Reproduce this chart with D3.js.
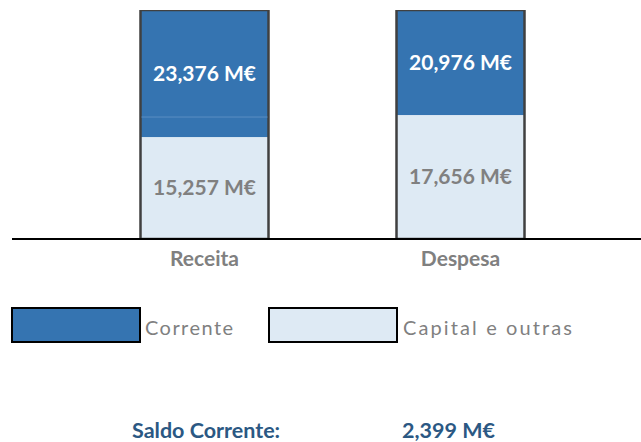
<!DOCTYPE html>
<html>
<head>
<meta charset="utf-8">
<script src="https://cdn.jsdelivr.net/npm/d3@7"></script>
<style>
  body { margin: 0; background: #fff; }
  svg { display: block; }
</style>
</head>
<body>
<svg class="chart"></svg>
<script>
var categories = ['Receita', 'Despesa']
var corrente = [23376, 20976]
var capital = [15257, 17656]
var saldoCorrente = 2399
var seriesNames = ['Corrente', 'Capital e outras']

var width = 641, height = 442;
var darkBlue = '#3574b1', lightBlue = '#deeaf4';

var svg = d3.select('.chart')
    .attr('width', width)
    .attr('height', height)
    .style('font-family', 'Lato, sans-serif');

// the value axis does not start at zero and the bar tops are cut off
var y = d3.scaleLinear()
    .domain([4150, 29100])
    .range([239, 10]);

var x = d3.scaleBand()
    .domain(categories)
    .range([76.5, 588.5])
    .paddingInner(0.5)
    .paddingOuter(0.25);

svg.append('clipPath').attr('id', 'plot')
  .append('rect')
    .attr('x', 0).attr('y', y.range()[1])
    .attr('width', width).attr('height', y.range()[0] - y.range()[1]);

var data = categories.map(function(c, i) {
    return { name: c, capital: capital[i], corrente: corrente[i] };
});

var bars = svg.selectAll('.bar')
    .data(data)
  .enter().append('g')
    .attr('class', 'bar')
    .attr('clip-path', 'url(#plot)');

function clampY(v) { return Math.max(y.range()[1], Math.min(y.range()[0], y(v))); }

// capital e outras (bottom)
bars.append('rect')
    .attr('x', function(d) { return x(d.name); })
    .attr('width', x.bandwidth())
    .attr('y', function(d) { return clampY(d.capital); })
    .attr('height', function(d) { return clampY(y.domain()[0]) - clampY(d.capital); })
    .attr('fill', lightBlue);

// corrente (top)
bars.append('rect')
    .attr('x', function(d) { return x(d.name); })
    .attr('width', x.bandwidth())
    .attr('y', function(d) { return clampY(d.capital + d.corrente); })
    .attr('height', function(d) { return clampY(d.capital) - clampY(d.capital + d.corrente); })
    .attr('fill', darkBlue);

// faint line marking the saldo inside the receita bar
svg.append('line')
    .attr('x1', x('Receita') + 1).attr('x2', x('Receita') + x.bandwidth() - 1)
    .attr('y1', y(capital[0] + saldoCorrente) + 2).attr('y2', y(capital[0] + saldoCorrente) + 2)
    .attr('stroke', '#5a8ec4').attr('stroke-width', 1);

// outline
bars.append('rect')
    .attr('x', function(d) { return x(d.name); })
    .attr('width', x.bandwidth())
    .attr('y', function(d) { return clampY(d.capital + d.corrente); })
    .attr('height', function(d) { return clampY(y.domain()[0]) - clampY(d.capital + d.corrente); })
    .attr('fill', 'none')
    .attr('stroke', '#404040')
    .attr('stroke-width', 2.5);

// value labels
svg.selectAll('.lab-corrente')
    .data(data)
  .enter().append('text')
    .attr('x', function(d) { return x(d.name) + x.bandwidth() / 2; })
    .attr('y', function(d) { return (clampY(d.capital + d.corrente) + clampY(d.capital)) / 2; })
    .attr('dy', '0.35em')
    .attr('text-anchor', 'middle')
    .attr('fill', '#fff')
    .attr('font-weight', 'bold')
    .attr('font-size', 21)
    .text(function(d) { return d3.format(',')(d.corrente) + ' M€'; });

svg.selectAll('.lab-capital')
    .data(data)
  .enter().append('text')
    .attr('x', function(d) { return x(d.name) + x.bandwidth() / 2; })
    .attr('y', function(d) { return (clampY(d.capital) + clampY(y.domain()[0])) / 2; })
    .attr('dy', '0.35em')
    .attr('text-anchor', 'middle')
    .attr('fill', '#808080')
    .attr('font-weight', 'bold')
    .attr('font-size', 21)
    .text(function(d) { return d3.format(',')(d.capital) + ' M€'; });

// baseline
svg.append('line')
    .attr('x1', 12).attr('x2', width)
    .attr('y1', y.range()[0]).attr('y2', y.range()[0])
    .attr('stroke', '#000').attr('stroke-width', 2);

// category labels
var xAxis = svg.append('g')
    .attr('transform', 'translate(0,' + y.range()[0] + ')')
    .call(d3.axisBottom(x).tickSize(0).tickPadding(12));
xAxis.select('.domain').remove();
xAxis.selectAll('text')
    .attr('font-family', 'Lato, sans-serif')
    .attr('font-size', 21)
    .attr('font-weight', 'bold')
    .attr('fill', '#808080');

// legend
var legend = [
    { name: seriesNames[0], color: darkBlue, x: 12, tx: 145, tw: 88 },
    { name: seriesNames[1], color: lightBlue, x: 269, tx: 403, tw: 169 }
];
var lg = svg.selectAll('.legend')
    .data(legend)
  .enter().append('g')
    .attr('class', 'legend');
lg.append('rect')
    .attr('x', function(d) { return d.x; })
    .attr('y', 308)
    .attr('width', 128)
    .attr('height', 34)
    .attr('fill', function(d) { return d.color; })
    .attr('stroke', '#000')
    .attr('stroke-width', 2);
lg.append('text')
    .attr('x', function(d) { return d.tx; })
    .attr('y', 335)
    .attr('font-size', 20)
    .attr('fill', '#808080')
    .attr('textLength', function(d) { return d.tw; })
    .attr('lengthAdjust', 'spacing')
    .text(function(d) { return d.name; });

// saldo corrente
svg.append('text')
    .attr('x', 132).attr('y', 438)
    .attr('font-size', 21.5).attr('font-weight', 'bold')
    .attr('fill', '#2b5883')
    .text('Saldo Corrente:');
svg.append('text')
    .attr('x', 402).attr('y', 438)
    .attr('font-size', 21.5).attr('font-weight', 'bold')
    .attr('fill', '#2b5883')
    .text(d3.format(',')(saldoCorrente) + ' M€');
</script>
</body>
</html>
